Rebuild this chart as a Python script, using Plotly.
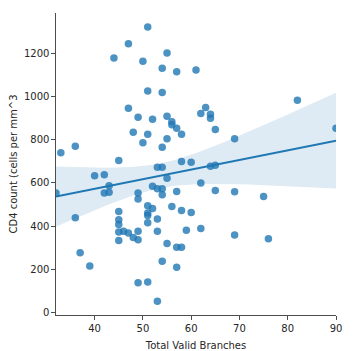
import numpy as np
import plotly.graph_objects as go

branches = [51, 47, 44, 55, 50, 54, 57, 61, 51, 54, 63, 47, 62, 64, 64, 49, 52, 55, 56, 56,
            57, 58, 65, 48, 51, 50, 55, 54, 69, 33, 36, 45, 58, 60, 53, 54, 64, 65, 40, 42,
            55, 62, 43, 52, 53, 54, 54, 57, 65, 69, 75, 42, 43, 32, 49, 49, 51, 52, 56, 58,
            60, 51, 51, 53, 51, 53, 36, 37, 39, 45, 45, 45, 45, 45, 46, 47, 48, 49, 49, 49,
            51, 53, 55, 57, 58, 59, 62, 69, 54, 57, 76, 82, 90]
cd4 = [1320, 1243, 1177, 1200, 1162, 1130, 1113, 1121, 1025, 1017, 948, 945, 921, 917, 898,
       903, 894, 908, 882, 868, 852, 825, 846, 834, 825, 785, 804, 765, 804, 739, 769, 703,
       698, 695, 672, 672, 677, 681, 633, 637, 621, 599, 587, 584, 573, 573, 545, 560, 564,
       559, 537, 553, 556, 553, 553, 525, 494, 481, 491, 472, 463, 460, 449, 433, 415, 376,
       438, 277, 215, 467, 429, 407, 373, 333, 376, 368, 347, 376, 337, 138, 142, 52, 320,
       302, 302, 381, 389, 359, 238, 210, 342, 982, 852]

x_range = [32, 90]
y_range = [-11, 1385]
x_ticks = [40, 50, 60, 70, 80, 90]
y_ticks = [0, 200, 400, 600, 800, 1000, 1200]

x = np.array(branches, dtype=float)
y = np.array(cd4, dtype=float)
n = len(x)
b, a = np.polyfit(x, y, 1)
grid = np.linspace(x_range[0], x_range[1], 100)
fit = a + b * grid
resid = y - (a + b * x)
s = np.sqrt(np.sum(resid ** 2) / (n - 2))
sxx = np.sum((x - x.mean()) ** 2)
se = s * np.sqrt(1.0 / n + (grid - x.mean()) ** 2 / sxx)
t = 1.986
upper = fit + t * se
lower = fit - t * se

blue = "#1f77b4"
fig = go.Figure()
fig.add_trace(go.Scatter(x=list(grid) + list(grid[::-1]), y=list(upper) + list(lower[::-1]),
                         fill="toself", fillcolor="rgba(31,119,180,0.15)",
                         line=dict(width=0), mode="lines", hoverinfo="skip", showlegend=False))
fig.add_trace(go.Scatter(x=branches, y=cd4, mode="markers",
                         marker=dict(size=7.5, color="rgba(31,119,180,0.8)", line=dict(width=0)),
                         showlegend=False))
fig.add_trace(go.Scatter(x=grid, y=fit, mode="lines", line=dict(color=blue, width=2),
                         showlegend=False))

font = dict(family="DejaVu Sans", size=10, color="#262626")
fig.update_layout(
    width=353, height=343,
    margin=dict(l=48, r=25, t=5, b=36),
    plot_bgcolor="white", paper_bgcolor="white",
    font=font,
    xaxis=dict(range=x_range, tickvals=x_ticks, showgrid=False, zeroline=False,
               showline=True, linecolor="#4d4d4d", linewidth=1.2, ticks="outside",
               ticklen=3.5, tickcolor="#4d4d4d", tickfont=font, automargin=False,
               title=dict(text="Total Valid Branches", font=font, standoff=9)),
    yaxis=dict(range=y_range, tickvals=y_ticks, showgrid=False, zeroline=False,
               showline=True, linecolor="#4d4d4d", linewidth=1.2, ticks="outside",
               ticklen=3.5, tickcolor="#4d4d4d", tickfont=font, automargin=False,
               title=dict(text="CD4 count (cells per mm^3", font=font, standoff=4)),
)
fig.write_html("out.html")
